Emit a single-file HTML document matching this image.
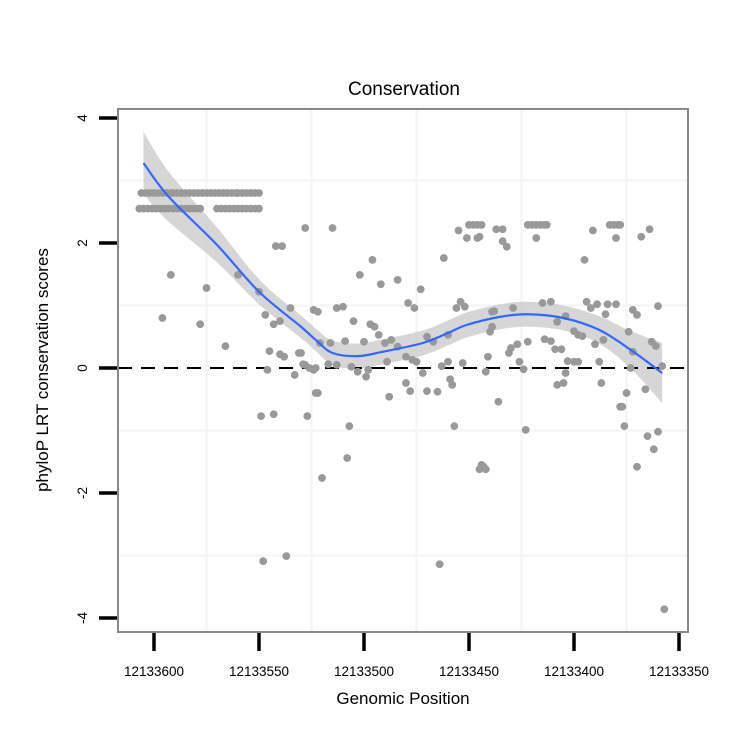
<!DOCTYPE html>
<html><head><meta charset="utf-8"><style>
body{margin:0;background:#fff}
svg{display:block;font-family:"Liberation Sans",Arial,sans-serif}
</style></head><body>
<svg id="chart" width="750" height="750" viewBox="0 0 750 750" xmlns="http://www.w3.org/2000/svg">
<rect width="750" height="750" fill="#fff"/>
<g id="grid"></g>
<g id="band"></g>
<line x1="118" y1="368" x2="688" y2="368" stroke="#000" stroke-width="2" stroke-dasharray="14,9"/>
<g id="pts"></g>
<g id="fit"></g>
<rect x="118" y="109" width="570" height="523" fill="none" stroke="#888" stroke-width="2"/>
<g id="axes"></g>
<text x="404" y="95" text-anchor="middle" font-size="19" fill="#000">Conservation</text>
<text x="403" y="704" text-anchor="middle" font-size="17" fill="#000">Genomic Position</text>
<text transform="translate(48,370) rotate(-90)" text-anchor="middle" font-size="17" fill="#000">phyloP LRT conservation scores</text>
</svg>
<script>
const B = 12133000;
const rowTopPos = [606,604,602,600,598,596,594,592,591,589,587,585,583,581,579,577,575,573,571,569,567,565,563,561,560,558,556,554,552,550];
const rowBotPos = [607,605,603,601,599,597,595,593,591,589,587,585,583,581,579,578,570,568,566,564,562,560,558,556,554,552,550];
const scatPos = [592,596,575,578,566,560,550,547,543,540,545,540,538,531,530,529,526,523,546,533,523,549,543,527,548,537,528,542,539,535,524,515,496,502,492,484,473,462,455,451,450,448,446,444,446,437,522,513,510,479,476,454,456,452,439,439,440,505,497,495,493,521,516,509,500,490,487,484,480,470,467,460,441,528,524,517,513,506,503,499,498,489,477,475,472,463,460,453,442,522,488,480,478,470,465,459,458,436,507,457,508,520,443,442,464,
434,434,432,445,422,420,418,416,414,413,418,391,383,381,379,378,380,368,364,395,438,429,415,411,394,392,389,384,380,385,372,370,360,404,408,400,398,396,390,386,374,422,414,411,409,406,430,427,431,363,361,372,426,424,403,400,398,388,373,358,404,408,405,387,375,378,377,366,376,423,365,360,362,370,445,444,357];
const scatScore = [1.49,0.8,1.28,0.7,0.35,1.49,1.22,0.85,0.7,0.75,0.27,0.22,0.18,0.24,0.24,0.06,0,0,-0.03,-0.11,-0.4,-0.77,-0.74,-0.77,-3.09,-3.01,2.24,1.95,1.95,0.96,0.93,2.24,1.73,1.49,1.34,1.41,1.26,1.76,2.2,2.08,2.29,2.29,2.29,2.29,2.08,2.22,0.9,0.96,0.98,1.04,0.96,1.06,0.96,0.98,0.9,0.66,0.58,0.75,0.7,0.66,0.53,0.4,0.4,0.43,0.42,0.4,0.45,0.34,0.18,0.5,0.42,0.53,0.18,0.05,-0.03,0.06,0.05,0.02,-0.06,-0.14,-0.03,0.1,0.13,0.1,-0.08,0.03,0.1,0.08,-0.06,-0.4,-0.46,-0.24,-0.37,-0.37,-0.38,-0.18,-0.27,-0.54,-0.93,-0.93,-1.44,-1.76,-1.58,-1.62,-3.14,
2.22,2.03,1.94,2.1,2.29,2.29,2.29,2.29,2.29,2.29,2.08,2.2,2.29,2.29,2.29,2.29,2.08,2.1,2.22,1.73,0.91,0.96,1.04,1.06,1.06,0.96,1.02,1.02,1.02,0.86,0.93,0.85,0.99,0.83,0.74,0.59,0.53,0.51,0.38,0.45,0.58,0.42,0.46,0.43,0.3,0.3,0.32,0.38,0.24,0.42,0.35,0.26,0.1,-0.02,0.11,0.1,0.1,0.1,0,0.03,-0.08,-0.27,-0.24,-0.24,-0.4,-0.62,-0.62,-0.34,-0.93,-0.99,-1.09,-1.02,-1.3,-1.58,-1.62,-1.55,-3.86];
const fitPos = [605,593,570,550,530,522,515,503,491,472,460,451,435,422,405,388,373,358];
const fitScore = [3.28,2.74,1.97,1.22,0.66,0.42,0.24,0.19,0.26,0.4,0.56,0.69,0.82,0.86,0.8,0.61,0.29,-0.08];
const fitSe = [0.5,0.4,0.28,0.2,0.18,0.18,0.2,0.2,0.2,0.2,0.2,0.2,0.2,0.2,0.2,0.22,0.3,0.48];
const xTicks = [12133600,12133550,12133500,12133450,12133400,12133350];
const yTicks = [4,2,0,-2,-4];

const NS = "http://www.w3.org/2000/svg";
function X(p){ return 154 + (12133600 - p) * 2.1; }
function Y(s){ return 368 - s * 62.5; }
function mk(tag, attrs, parent){ const e=document.createElementNS(NS,tag); for(const k in attrs) e.setAttribute(k,attrs[k]); parent.appendChild(e); return e; }
function smooth(P, start){
  let d = (start ? 'M' : 'L') + P[0][0] + ',' + P[0][1];
  for(let i=0;i<P.length-1;i++){
    const p0=P[Math.max(0,i-1)], p1=P[i], p2=P[i+1], p3=P[Math.min(P.length-1,i+2)];
    const c1x=p1[0]+(p2[0]-p0[0])/6, c1y=p1[1]+(p2[1]-p0[1])/6;
    const c2x=p2[0]-(p3[0]-p1[0])/6, c2y=p2[1]-(p3[1]-p1[1])/6;
    d+='C'+c1x+','+c1y+' '+c2x+','+c2y+' '+p2[0]+','+p2[1];
  }
  return d;
}

const grid=document.getElementById('grid');
[12133575,12133525,12133475,12133425,12133375].forEach(p=>{
  const l=mk('line',{x1:X(p),x2:X(p),y1:109,y2:632,stroke:'#f5f5f5','stroke-width':2.5},grid);
  
  
});
[3,1,-1,-3].forEach(v=>{
  const l=mk('line',{x1:118,x2:688,y1:Y(v),y2:Y(v),stroke:'#f5f5f5','stroke-width':2.5},grid);
  
  
});

const band=document.getElementById('band');
const up=fitPos.map((p,i)=>[X(B+p),Y(fitScore[i]+fitSe[i])]);
const lo=fitPos.map((p,i)=>[X(B+p),Y(fitScore[i]-fitSe[i])]).reverse();
const bp=mk('path',{d:smooth(up,true)+smooth(lo,false)+'Z',fill:'#c8c8c8','fill-opacity':0.75},band);



const pts=document.getElementById('pts');
function dot(p,s){
  const c=mk('circle',{cx:X(B+p),cy:Y(s),r:3.9,fill:'#999'},pts);
  
  
}
rowTopPos.forEach(p=>dot(p,2.8));
rowBotPos.forEach(p=>dot(p,2.55));
scatPos.forEach((p,i)=>dot(p,scatScore[i]));

const fit=document.getElementById('fit');
const fp=fitPos.map((p,i)=>[X(B+p),Y(fitScore[i])]);
const fl=mk('path',{d:smooth(fp,true),fill:'none',stroke:'#3366ff','stroke-width':2.2,'stroke-linejoin':'round'},fit);



const axes=document.getElementById('axes');
xTicks.forEach(t=>{
  const l=mk('line',{x1:X(t),x2:X(t),y1:633,y2:651,stroke:'#000','stroke-width':3.5},axes);
  
  
  const tx=mk('text',{x:X(t),y:676,'text-anchor':'middle','font-size':13.5,fill:'#000'},axes);
  tx.textContent=t;
  
  
});
yTicks.forEach(v=>{
  const l=mk('line',{x1:99,x2:117,y1:Y(v),y2:Y(v),stroke:'#000','stroke-width':3.5},axes);
  
  
  const tx=mk('text',{transform:'translate(87,'+Y(v)+') rotate(-90)','text-anchor':'middle','font-size':13.5,fill:'#000'},axes);
  tx.textContent=v;
  
  
});
</script>
</body></html>
